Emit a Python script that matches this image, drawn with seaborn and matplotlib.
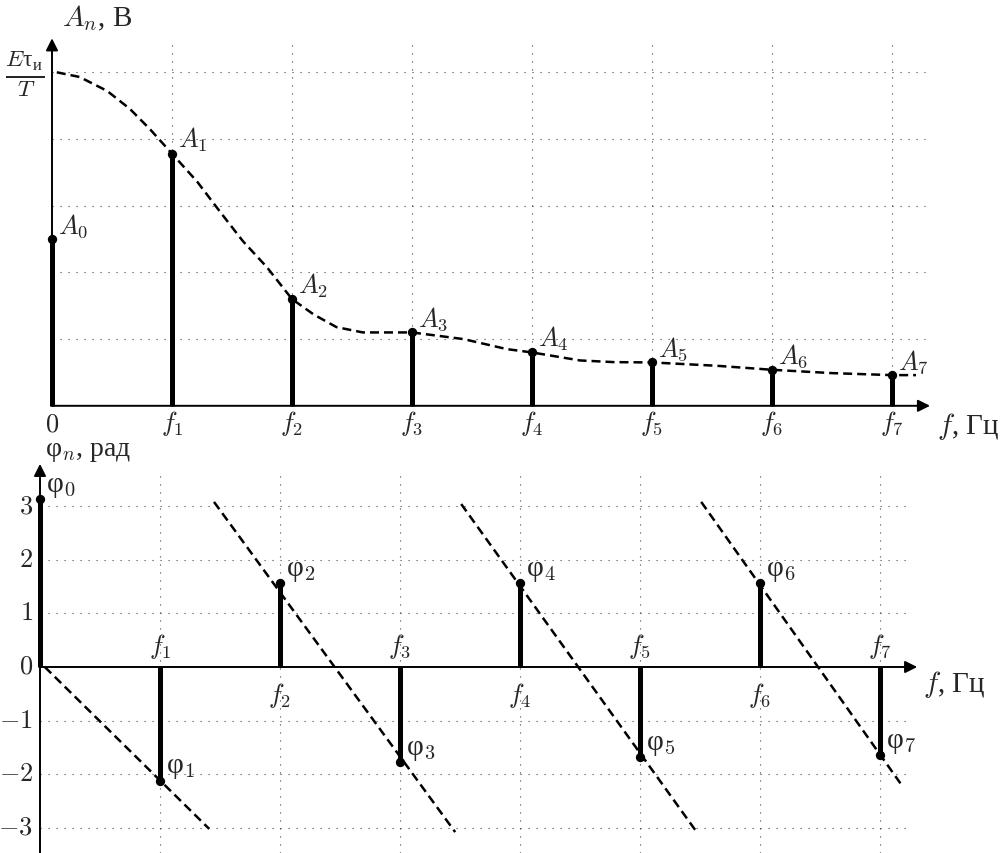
import numpy as np
import pandas as pd
import matplotlib
matplotlib.use("Agg")
import matplotlib.pyplot as plt
import seaborn as sns

# amplitude spectrum (top panel), units: grid steps, Eτи/T = 5
harm = [0, 1, 2, 3, 4, 5, 6, 7]
amp = [2.50, 3.78, 1.60, 1.10, 0.80, 0.65, 0.54, 0.46]
amp_labels = [r"$A_{%d}$" % k for k in harm]

# envelope
env_f = [0.04, 0.23, 0.46, 0.65, 0.82, 1.00, 1.21, 1.40, 1.59, 1.79, 2.00, 2.18,
         2.37, 2.59, 3.00, 3.43, 3.79, 4.00, 4.40, 4.68, 5.00, 5.54, 6.00, 6.50,
         7.00, 7.20]
env_a = [5.00, 4.93, 4.72, 4.45, 4.14, 3.78, 3.36, 2.91, 2.47, 2.08, 1.60, 1.37,
         1.18, 1.10, 1.10, 1.00, 0.85, 0.80, 0.68, 0.655, 0.65, 0.60, 0.54, 0.49,
         0.46, 0.46]

# phase spectrum (bottom panel), rad
phase = [3.13, -2.12, 1.57, -1.77, 1.57, -1.68, 1.57, -1.65]
phase_labels = [r"$\mathdefault{φ}_{%d}$" % k for k in harm]
phase_ticks = [-3, -2, -1, 0, 1, 2, 3]

# linear phase segments (start / end of each dashed line)
seg_id = [0, 0, 1, 1, 2, 2, 3, 3]
seg_f = [0.04, 1.41, 1.45, 3.46, 3.51, 5.46, 5.51, 7.17]
seg_p = [0.00, -3.02, 3.08, -3.08, 3.04, -3.04, 3.08, -2.17]

sns.set_theme(style="white")
plt.rcParams["font.family"] = ["Liberation Serif", "DejaVu Serif"]
plt.rcParams["mathtext.fontset"] = "cm"

W, H = 1003, 854
fig = plt.figure(figsize=(W / 100, H / 100), dpi=100)
ax1 = fig.add_axes([0, (H - 440) / H, 1, 440 / H])
ax2 = fig.add_axes([0, 0, 1, 414 / H])

ax1.set_xlim(-52 / 120, (W - 52) / 120)
ax1.set_ylim((406.8 - 440) / 66.7, 406.8 / 66.7)
ax2.set_xlim(-40 / 120, (W - 40) / 120)
ax2.set_ylim((668 - 854) / 53.6, (668 - 440) / 53.6)
for ax in (ax1, ax2):
    ax.axis("off")

grid_kw = dict(color="0.25", lw=0.8, linestyles=[(0, (1, 6.2))], zorder=1)
dash_kw = dict(color="black", lw=1.8, linestyle=(0, (3.6, 2.0)), zorder=2)
arrow_kw = dict(arrowstyle="-|>", lw=1.4, color="black", mutation_scale=18,
                shrinkA=0, shrinkB=0)
fs = 19       # math labels
fs_txt = 21   # labels with cyrillic units
fs_num = 19   # phase tick numbers

# ---- top: amplitudes ----
ax1.hlines([1, 2, 3, 4, 5], 0, 7.275, **grid_kw)
ax1.vlines(harm[1:], 0, 5.47, **grid_kw)
sns.lineplot(x=env_f, y=env_a, ax=ax1, **dash_kw)
ax1.annotate("", xy=(7.317, 0), xytext=(0, 0), arrowprops=arrow_kw, zorder=3)
ax1.annotate("", xy=(0, 5.51), xytext=(0, 0), arrowprops=arrow_kw, zorder=3)
ax1.vlines(harm, 0, amp, color="black", lw=3.6, zorder=3)
sns.scatterplot(x=harm, y=amp, ax=ax1, s=45, color="black", edgecolor="black",
                linewidth=0, zorder=4, legend=False)
for k, a, lab in zip(harm, amp, amp_labels):
    ax1.annotate(lab, (k, a), xytext=(4, 5), textcoords="offset points",
                 ha="left", va="baseline", fontsize=fs)
    tick = "$0$" if k == 0 else r"$f_{%d}$" % k
    ax1.text(k, -0.37, tick, ha="center", va="baseline", fontsize=fs)
ax1.text(0.083, 5.83, "$A_n$, В", ha="left", va="center", fontsize=fs_txt)
ax1.text(-0.225, 5.0, r"$\frac{E\mathdefault{τ}_{\mathdefault{и}}}{T}$",
         ha="center", va="center", fontsize=24)
ax1.text(7.375, -0.41, "$f$, Гц", ha="left", va="baseline", fontsize=fs_txt)

# ---- bottom: phases ----
ax2.hlines([t for t in phase_ticks if t != 0], 0, 7.27, **grid_kw)
ax2.vlines(harm[1:], -3.47, 3.69, **grid_kw)
seg = pd.DataFrame({"f": seg_f, "p": seg_p, "seg": seg_id})
sns.lineplot(data=seg, x="f", y="p", units="seg", estimator=None, ax=ax2,
             legend=False, **dash_kw)
ax2.annotate("", xy=(7.31, 0), xytext=(0, 0), arrowprops=arrow_kw, zorder=3)
ax2.annotate("", xy=(0, 3.79), xytext=(0, -3.47), arrowprops=arrow_kw, zorder=3)
ax2.vlines(harm, 0, phase, color="black", lw=3.6, zorder=3)
sns.scatterplot(x=harm, y=phase, ax=ax2, s=45, color="black", edgecolor="black",
                linewidth=0, zorder=4, legend=False)
for k, p, lab in zip(harm, phase, phase_labels):
    ax2.annotate(lab, (k, p), xytext=(4, 6), textcoords="offset points",
                 ha="left", va="baseline", fontsize=fs_txt)
    if k == 0:
        continue
    if p < 0:
        ax2.text(k, 0.13, r"$f_{%d}$" % k, ha="center", va="bottom", fontsize=fs)
    else:
        ax2.text(k, -0.24, r"$f_{%d}$" % k, ha="center", va="top", fontsize=fs)
for t in phase_ticks:
    ax2.text(-0.058, t, "$%d$" % t, ha="right", va="center", fontsize=fs_num)
ax2.text(0.042, 3.96, r"$\mathdefault{φ}_n$, рад", ha="left", va="baseline",
         fontsize=20)
ax2.text(7.36, -0.45, "$f$, Гц", ha="left", va="baseline", fontsize=fs_txt)

fig.savefig("out.png", dpi=100)
